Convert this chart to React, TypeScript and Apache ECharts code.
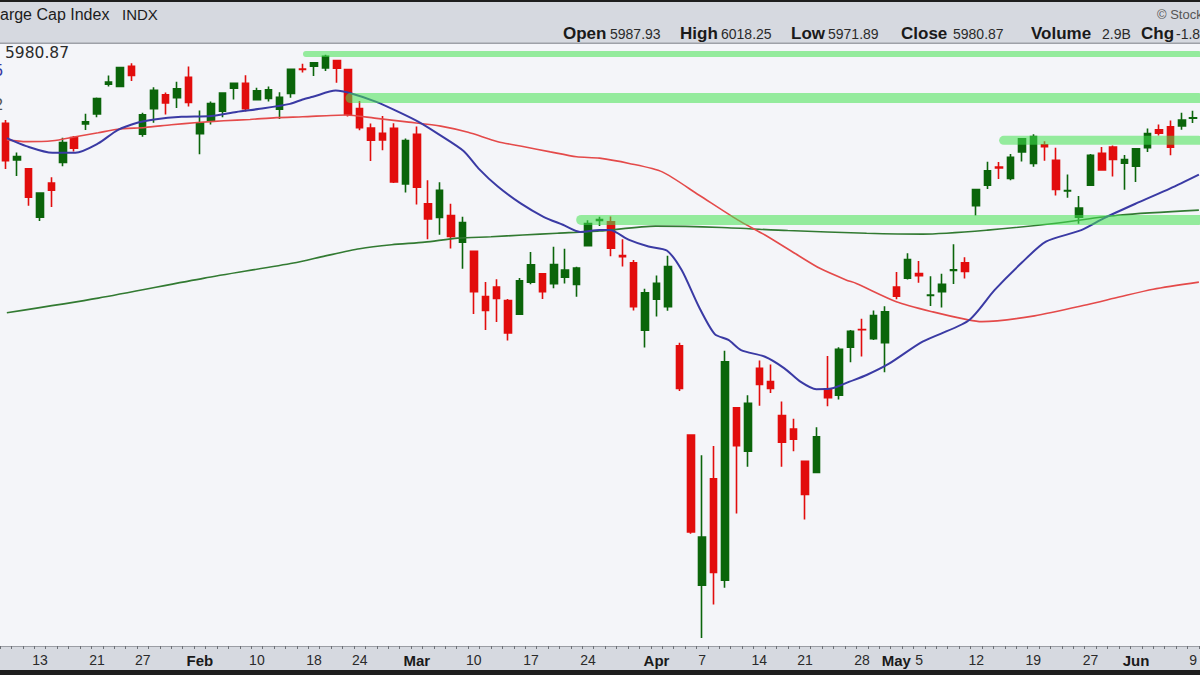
import React, { useEffect, useRef } from "react";
import * as echarts from "echarts";

// ---- data ----
const dates = [
  "2025-01-07","2025-01-08","2025-01-10","2025-01-13","2025-01-14","2025-01-15","2025-01-16","2025-01-17","2025-01-21","2025-01-22","2025-01-23","2025-01-24","2025-01-27","2025-01-28","2025-01-29","2025-01-30","2025-01-31",
  "2025-02-03","2025-02-04","2025-02-05","2025-02-06","2025-02-07","2025-02-10","2025-02-11","2025-02-12","2025-02-13","2025-02-14","2025-02-18","2025-02-19","2025-02-20","2025-02-21","2025-02-24","2025-02-25","2025-02-26","2025-02-27","2025-02-28",
  "2025-03-03","2025-03-04","2025-03-05","2025-03-06","2025-03-07","2025-03-10","2025-03-11","2025-03-12","2025-03-13","2025-03-14","2025-03-17","2025-03-18","2025-03-19","2025-03-20","2025-03-21","2025-03-24","2025-03-25","2025-03-26","2025-03-27","2025-03-28","2025-03-31",
  "2025-04-01","2025-04-02","2025-04-03","2025-04-04","2025-04-07","2025-04-08","2025-04-09","2025-04-10","2025-04-11","2025-04-14","2025-04-15","2025-04-16","2025-04-17","2025-04-21","2025-04-22","2025-04-23","2025-04-24","2025-04-25","2025-04-28","2025-04-29","2025-04-30",
  "2025-05-01","2025-05-02","2025-05-05","2025-05-06","2025-05-07","2025-05-08","2025-05-09","2025-05-12","2025-05-13","2025-05-14","2025-05-15","2025-05-16","2025-05-19","2025-05-20","2025-05-21","2025-05-22","2025-05-23","2025-05-27","2025-05-28","2025-05-29","2025-05-30",
  "2025-06-02","2025-06-03","2025-06-04","2025-06-05","2025-06-06","2025-06-09",
];

const opens = [
  5993.3,5910.7,5890.7,5782.3,5859.0,5905.2,5961.2,5992.0,6014.1,6081.4,6076.3,6121.4,5969.0,6026.0,6057.7,6050.8,6096.8,
  5969.7,5998.1,6020.5,6072.2,6083.1,6046.4,6049.3,6025.1,6060.6,6115.5,6121.6,6117.8,6134.5,6114.1,6026.7,5982.7,5970.9,5981.9,5856.7,
  5968.3,5812.0,5781.4,5785.9,5726.0,5705.4,5603.7,5624.8,5594.5,5563.9,5635.6,5654.5,5632.4,5646.9,5630.7,5718.1,5775.0,5771.7,5695.6,5679.5,5527.9,
  5597.5,5580.8,5492.7,5292.1,4953.8,5193.6,4965.3,5353.2,5255.6,5442.0,5412.0,5335.8,5305.5,5232.9,5207.7,5395.9,5381.4,5489.4,5529.2,5508.9,5499.4,
  5625.1,5645.0,5655.3,5605.9,5614.7,5662.1,5679.4,5807.9,5854.2,5895.1,5869.2,5929.1,5902.9,5944.7,5910.3,5841.3,5781.9,5854.1,5925.9,5939.9,5903.7,
  5896.7,5938.6,5978.9,5985.7,5987.1,6004.6,
];
const highs = [
  6000.7,5927.9,5890.7,5837.9,5871.9,5960.6,5964.7,6015.0,6051.5,6100.8,6118.7,6128.2,6017.2,6074.5,6062.8,6086.6,6120.9,
  6022.1,6042.5,6062.9,6084.0,6101.3,6073.4,6076.3,6063.1,6116.9,6127.5,6129.6,6147.4,6134.5,6114.8,6043.7,5992.7,6009.8,5993.7,5959.4,
  5986.1,5865.1,5860.6,5812.1,5783.0,5705.4,5636.3,5642.2,5597.8,5645.3,5703.5,5654.5,5715.3,5711.2,5670.8,5775.1,5783.0,5783.6,5732.3,5685.9,5621.0,
  5650.6,5695.3,5499.5,5292.1,5246.6,5267.5,5481.3,5353.2,5381.5,5459.5,5450.4,5367.2,5328.3,5232.9,5309.6,5469.7,5489.4,5528.1,5553.7,5572.0,5581.8,
  5658.9,5700.7,5683.4,5649.0,5655.0,5721.0,5691.7,5845.5,5906.6,5906.0,5924.0,5958.6,5968.6,5953.1,5938.4,5878.1,5829.5,5924.3,5939.9,5943.1,5922.1,
  5937.4,5981.4,5990.5,5999.7,6016.9,6021.3,
];
const lows = [
  5890.7,5874.8,5807.8,5773.3,5805.0,5896.7,5930.0,5978.4,6006.9,6076.1,6074.7,6088.7,5962.9,5994.6,6013.0,6027.9,6030.9,
  5923.9,5990.9,6007.1,6046.8,6020.0,6044.8,6042.3,6003.0,6051.0,6107.6,6099.5,6111.2,6084.6,6008.6,5977.8,5908.5,5932.7,5858.8,5837.7,
  5810.9,5732.6,5742.4,5711.6,5666.3,5564.0,5528.4,5546.1,5504.7,5563.9,5631.1,5597.8,5622.2,5632.6,5603.1,5718.1,5762.0,5694.4,5670.9,5572.4,5488.7,
  5558.5,5571.5,5390.8,5069.9,4835.0,4910.4,4948.4,5115.3,5220.8,5358.0,5386.4,5220.8,5255.6,5101.6,5207.7,5356.6,5372.0,5455.9,5468.6,5505.7,5433.2,
  5597.4,5641.9,5634.5,5582.0,5578.6,5632.0,5644.0,5786.1,5845.3,5868.0,5865.2,5907.4,5895.7,5909.3,5830.9,5825.8,5767.4,5854.1,5886.3,5873.8,5843.7,
  5861.4,5929.0,5966.1,5921.2,5978.6,5994.2,
];
const closes = [
  5909.0,5918.3,5827.0,5836.2,5842.9,5949.9,5937.3,5996.7,6049.2,6086.4,6118.7,6101.2,6012.3,6067.7,6039.3,6071.2,6040.5,
  5994.6,6037.9,6061.5,6083.6,6026.0,6066.4,6068.5,6052.0,6115.1,6114.6,6129.6,6144.2,6117.5,6013.1,5983.3,5955.3,5956.1,5861.6,5954.5,
  5849.7,5778.2,5842.6,5738.5,5770.2,5614.6,5572.1,5599.3,5521.5,5638.9,5675.1,5614.7,5675.3,5662.9,5667.6,5767.6,5776.7,5712.2,5693.3,5580.9,5611.9,
  5633.1,5671.0,5396.5,5074.1,5062.3,4982.8,5456.9,5268.1,5363.4,5406.0,5396.6,5275.7,5282.7,5158.2,5287.8,5375.9,5484.8,5525.2,5528.8,5560.8,5569.1,
  5604.1,5686.7,5650.4,5606.9,5631.3,5663.9,5659.9,5844.2,5886.6,5892.6,5916.9,5958.4,5963.6,5940.5,5844.6,5842.0,5802.8,5921.5,5888.6,5912.2,5911.7,
  5935.9,5970.4,5970.8,5939.3,6000.4,6005.9,
];

// moving averages: [trading-day position, value]
const ma20 = [
  [0.1,5960],[1.8,5942],[4.1,5927],[6.1,5927],[8.1,5948],[9.8,5978],[11.6,5995],[13.0,6002],[15.4,6008],[18.0,6010],[20.2,6019],[22.6,6027],[24.9,6037],[26.0,6047],[26.9,6053],[28.9,6067],[30.2,6061],[32.4,6042],[34.4,6019],[36.2,5996],[37.9,5969],[40.1,5931],[41.4,5892],[43.1,5851],[45.1,5813],[47.1,5783],[48.8,5765],[50.3,5749],[52.0,5753],[52.9,5753],[54.6,5731],[56.3,5716],[57.9,5707],[59.2,5663],[60.7,5581],[62.1,5519],[63.3,5506],[64.4,5483],[66.5,5468],[68.2,5442],[69.6,5412],[71.0,5395],[72.4,5397],[73.9,5412],[75.4,5427],[77.4,5453],[80.3,5502],[84.3,5549],[86.6,5618],[89.0,5680],[91.1,5727],[94.2,5753],[96.2,5780],[99.0,5813],[102.0,5847],[104.5,5878],
];
const ma50 = [
  [0.1,5956],[1.8,5952],[4.1,5954],[6.1,5963],[8.1,5972],[9.8,5980],[12.2,5984],[14.5,5990],[16.8,5995],[19.1,5999],[21.4,6002],[23.7,6006],[26.0,6008],[29.8,6012],[32.3,6005],[35.3,5996],[38.1,5987],[40.5,5973],[43.1,5952],[45.3,5941],[47.7,5929],[50.0,5918],[52.0,5915],[54.6,5903],[57.5,5884],[60.7,5832],[64.1,5776],[66.5,5742],[69.1,5701],[71.3,5667],[73.6,5641],[74.5,5633],[78.0,5592],[81.2,5569],[84.3,5551],[85.5,5547],[90.1,5560],[94.7,5585],[97.6,5603],[100.5,5620],[104.5,5636],
];
const ma200 = [
  [0.1,5567],[8.1,5600],[17.4,5645],[25.2,5679],[28.0,5695],[31.0,5711],[33.8,5720],[36.7,5726],[39.6,5735],[42.5,5738],[45.3,5742],[48.3,5746],[52.0,5751],[56.9,5762],[62.7,5759],[68.5,5752],[75.4,5746],[80.3,5744],[86.0,5753],[91.8,5768],[97.6,5787],[104.5,5798],
];

// highlighted support / resistance levels
const bandLevels = [6149, 6050, 5955, 5776];
const bandStarts = [26.3, 30.2, 87.4, 50.4];

const tickDates = ["2025-01-13","2025-01-21","2025-01-27","2025-02-03","2025-02-10","2025-02-18","2025-02-24","2025-03-03","2025-03-10","2025-03-17","2025-03-24","2025-04-01","2025-04-07","2025-04-14","2025-04-21","2025-04-28","2025-05-01","2025-05-05","2025-05-12","2025-05-19","2025-05-27","2025-06-02","2025-06-09"];
const tickTexts = ["13","21","27","Feb","10","18","24","Mar","10","17","24","Apr","7","14","21","28","May","5","12","19","27","Jun","9"];

const headerLabels = ["Open", "High", "Low", "Close", "Volume", "Chg"];
const headerValues = ["5987.93", "6018.25", "5971.89", "5980.87", "2.9B", "-1.83%"];

// ---- styles ----
const SANS = "'Liberation Sans', Arial, Helvetica, sans-serif";
const UP = "#0b650b";
const DOWN = "#e20d0d";
const BAND = "rgba(70, 226, 82, 0.55)";
const BAND_WIDTHS = [6, 10, 9, 10];
const LABEL_X = [563, 680, 791, 901, 1031, 1141];
const VALUE_X = [610, 721, 828, 953, 1102, 1176];

export default function App() {
  const ref = useRef<HTMLDivElement>(null);

  useEffect(() => {
    if (!ref.current) return;
    const chart = echarts.init(ref.current, undefined, { renderer: "svg" });

    const candleData = dates.map((_, i) => [opens[i], closes[i], lows[i], highs[i]]);

    const bandSeries = bandLevels.map((lvl, i) => ({
      type: "line",
      xAxisIndex: 1,
      yAxisIndex: 0,
      data: [[bandStarts[i], lvl], [104.5, lvl]],
      symbol: "none",
      silent: true,
      z: 6,
      lineStyle: { color: BAND, width: BAND_WIDTHS[i], cap: "round" },
    }));

    const maLine = (data: number[][], color: string, width: number, z: number) => ({
      type: "line",
      xAxisIndex: 1,
      yAxisIndex: 0,
      data,
      symbol: "none",
      smooth: 0.25,
      silent: true,
      z,
      lineStyle: { color, width },
    });

    const headerTexts: any[] = [];
    headerLabels.forEach((l, i) => {
      headerTexts.push({
        type: "text", x: LABEL_X[i], y: 33, z: 102,
        style: { text: l, fill: "#1a1a1a", fontSize: 17, fontWeight: "bold", fontFamily: SANS, align: "left", verticalAlign: "middle" },
      });
      headerTexts.push({
        type: "text", x: VALUE_X[i], y: 33.5, z: 102,
        style: { text: headerValues[i], fill: "#2a2a2a", fontSize: 14, fontFamily: SANS, align: "left", verticalAlign: "middle" },
      });
    });

    const option: any = {
      animation: false,
      backgroundColor: "#f4f5f9",
      grid: { left: -6.425, right: -6.325, top: 44, bottom: 29 },
      xAxis: [
        {
          type: "category",
          data: dates,
          boundaryGap: true,
          axisLine: { show: true, lineStyle: { color: "#9a9da4", width: 1 } },
          axisTick: { show: true, interval: 0, length: 3, lineStyle: { color: "#6d7077" } },
          splitLine: { show: false },
          axisLabel: {
            interval: 0,
            margin: 7,
            color: "#2a2a2a",
            fontSize: 14,
            fontFamily: SANS,
            formatter: (v: string) => {
              const k = tickDates.indexOf(v);
              if (k < 0) return "";
              const t = tickTexts[k];
              return /^[A-Z]/.test(t) ? `{m|${t}}` : t;
            },
            rich: { m: { fontWeight: "bold", fontSize: 15, color: "#1a1a1a", fontFamily: SANS } },
          },
        },
        { type: "value", min: -0.5, max: 104.5, show: false },
      ],
      yAxis: { type: "value", min: 4817.25, max: 6171.75, show: false, splitLine: { show: false } },
      series: [
        {
          type: "candlestick",
          data: candleData,
          barWidth: 7,
          z: 2,
          itemStyle: { color: UP, color0: DOWN, borderColor: UP, borderColor0: DOWN, borderWidth: 1.6 },
        },
        maLine(ma200, "#327a32", 1.6, 4),
        maLine(ma50, "#e44a4a", 1.6, 4),
        maLine(ma20, "#3a3aa4", 2, 5),
        ...bandSeries,
      ],
      graphic: {
        elements: [
          { type: "rect", shape: { x: 0, y: 0, width: 1200, height: 44 }, style: { fill: "#d6d9e0" }, z: 100 },
          { type: "rect", shape: { x: 0, y: 0, width: 1200, height: 2 }, style: { fill: "#1e1e1e" }, z: 101 },
          { type: "rect", shape: { x: 0, y: 42.5, width: 1200, height: 1.5 }, style: { fill: "#9ea1a8" }, z: 101 },
          { type: "text", x: -8.9, y: 14, z: 102, style: { text: "Large Cap Index", fill: "#1c1c1c", fontSize: 16, fontFamily: SANS, align: "left", verticalAlign: "middle" } },
          { type: "text", x: 122, y: 14, z: 102, style: { text: "INDX", fill: "#1c1c1c", fontSize: 15, fontFamily: SANS, align: "left", verticalAlign: "middle" } },
          { type: "text", x: 1157, y: 14, z: 102, style: { text: "© StockCharts.com", fill: "#555555", fontSize: 13, fontFamily: SANS, align: "left", verticalAlign: "middle" } },
          ...headerTexts,
          { type: "text", x: 5, y: 53, z: 102, style: { text: "5980.87", fill: "#2b2b2b", fontSize: 15.5, fontFamily: "'DejaVu Sans', Verdana, sans-serif", align: "left", verticalAlign: "middle" } },
          { type: "text", x: -6, y: 71, z: 102, style: { text: "5", fill: "#3a3aa4", fontSize: 15, fontFamily: "'DejaVu Sans', Verdana, sans-serif", align: "left", verticalAlign: "middle" } },
          { type: "text", x: -6, y: 105, z: 102, style: { text: "2", fill: "#555555", fontSize: 15, fontFamily: "'DejaVu Sans', Verdana, sans-serif", align: "left", verticalAlign: "middle" } },
          { type: "rect", shape: { x: 0, y: 646, width: 1200, height: 25 }, style: { fill: "#d6d9e0" }, z: -1 },
          { type: "rect", shape: { x: 0, y: 670, width: 1200, height: 5 }, style: { fill: "#1e1e1e" }, z: 101 },
        ],
      },
    };

    chart.setOption(option);
    return () => chart.dispose();
  }, []);

  return (
    <div
      ref={ref}
      style={{ position: "fixed", left: 0, top: 0, width: 1200, height: 675 }}
    />
  );
}
